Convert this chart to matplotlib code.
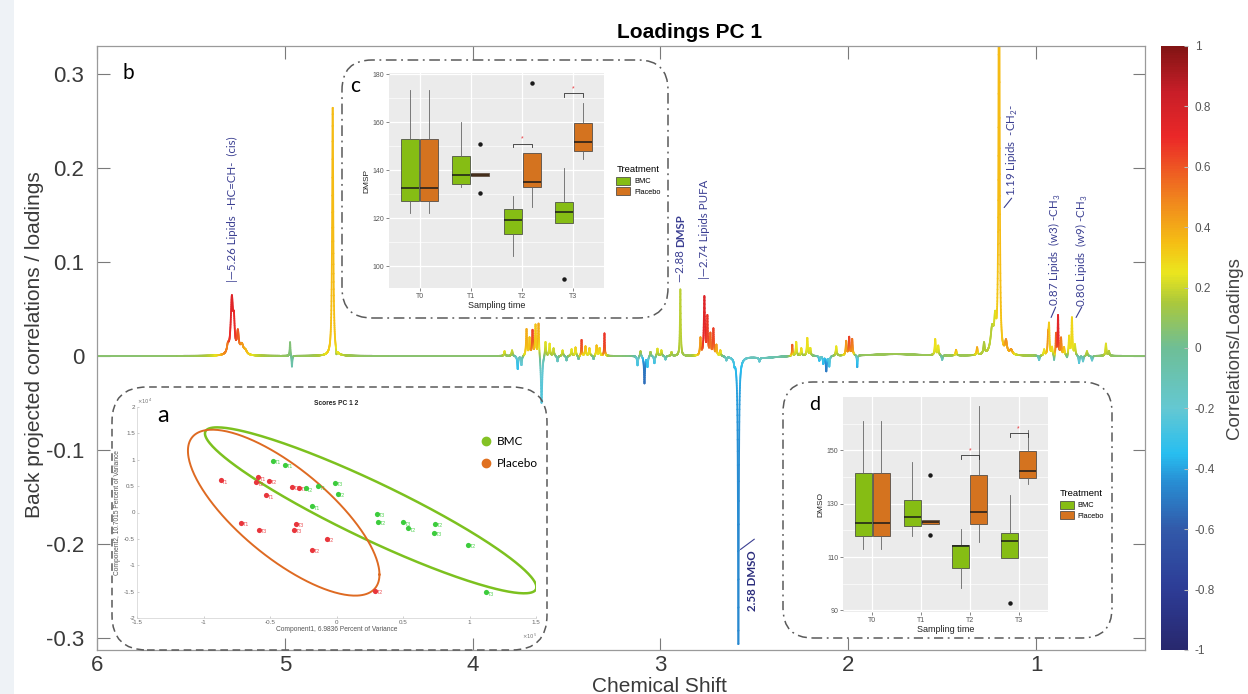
import numpy as np
import matplotlib
matplotlib.use("Agg")
import matplotlib.pyplot as plt
from matplotlib.collections import LineCollection
from matplotlib.colors import LinearSegmentedColormap, Normalize
from matplotlib.cm import ScalarMappable
from matplotlib.patches import FancyBboxPatch, Patch
from matplotlib.lines import Line2D

plt.rcParams['font.family'] = ['Liberation Sans', 'DejaVu Sans']
plt.rcParams['axes.unicode_minus'] = False
plt.rcParams['mathtext.fontset'] = 'custom'
plt.rcParams['mathtext.rm'] = 'Lato'
plt.rcParams['mathtext.bf'] = 'Lato:bold'

# ---------------------------------------------------------------- data
# Spectral features of the PC1 loading: (ppm, loading, half-width ppm, correlation)
OLEFINIC_526 = [(5.303, 0.008, 0.006, 0.40), (5.282, 0.058, 0.007, 0.78),
                (5.271, 0.028, 0.005, 0.72), (5.250, 0.022, 0.006, 0.62),
                (5.229, 0.010, 0.010, 0.45), (5.210, 0.004, 0.010, 0.35)]
WATER_REGION = [(4.972, 0.015, 0.002, 0.05), (4.962, -0.012, 0.002, -0.10),
                (4.745, 0.265, 0.0035, 0.36), (4.725, -0.006, 0.002, -0.15)]
SUGAR_REGION = [(3.830, 0.005, 0.003, 0.30), (3.790, 0.006, 0.003, 0.25),
                (3.760, -0.014, 0.003, -0.40), (3.740, -0.010, 0.003, -0.30),
                (3.713, 0.028, 0.003, 0.42), (3.697, 0.018, 0.003, 0.35),
                (3.681, 0.026, 0.003, 0.72), (3.665, 0.032, 0.003, 0.35),
                (3.649, 0.036, 0.003, 0.48), (3.633, -0.052, 0.004, -0.28),
                (3.612, 0.016, 0.003, 0.30), (3.590, 0.013, 0.003, 0.30),
                (3.569, 0.008, 0.003, 0.25), (3.548, -0.006, 0.003, -0.25),
                (3.521, 0.006, 0.003, 0.30), (3.500, -0.005, 0.003, -0.20),
                (3.473, 0.007, 0.003, 0.30), (3.452, 0.009, 0.003, 0.35),
                (3.436, -0.004, 0.003, -0.20), (3.420, 0.017, 0.002, 0.72),
                (3.399, 0.010, 0.003, 0.40), (3.378, 0.008, 0.003, 0.35),
                (3.356, -0.004, 0.003, -0.20), (3.340, 0.011, 0.003, 0.40),
                (3.324, 0.008, 0.003, 0.35), (3.298, 0.024, 0.002, 0.72)]
CHOLINE_REGION = [(3.122, -0.010, 0.003, -0.35), (3.106, 0.006, 0.003, 0.30),
                  (3.085, -0.029, 0.003, -0.58), (3.069, -0.011, 0.003, -0.40),
                  (3.053, 0.005, 0.003, 0.25), (3.032, -0.008, 0.003, -0.40),
                  (3.016, 0.008, 0.003, 0.30), (2.995, 0.006, 0.003, 0.30),
                  (2.973, -0.004, 0.003, -0.30), (2.941, 0.004, 0.003, 0.25)]
DMSP_PEAK = [(2.894, 0.071, 0.0025, 0.18)]
PUFA_REGION = [(2.787, 0.018, 0.003, 0.45), (2.766, 0.062, 0.0035, 0.78),
               (2.750, 0.040, 0.003, 0.70), (2.734, 0.022, 0.003, 0.60),
               (2.718, 0.028, 0.003, 0.70), (2.702, 0.011, 0.003, 0.50),
               (2.681, 0.006, 0.003, 0.40), (2.649, -0.004, 0.003, -0.30),
               (2.606, -0.005, 0.003, -0.30)]
DMSO_PEAK = [(2.585, -0.296, 0.0025, -0.47), (2.585, -0.012, 0.012, -0.30)]
MID_REGION = [(2.450, -0.002, 0.080, -0.25), (2.473, -0.004, 0.003, -0.30),
              (2.298, 0.012, 0.002, 0.72), (2.277, 0.015, 0.003, 0.30),
              (2.250, 0.008, 0.003, 0.35), (2.218, 0.019, 0.003, 0.30),
              (2.202, 0.008, 0.003, 0.30), (2.154, -0.005, 0.003, -0.50),
              (2.133, -0.008, 0.003, -0.45), (2.117, -0.016, 0.003, -0.58),
              (2.101, -0.011, 0.003, -0.35), (2.064, 0.010, 0.003, 0.30),
              (2.011, 0.015, 0.003, 0.50), (1.995, 0.019, 0.003, 0.72),
              (1.979, 0.017, 0.003, 0.60), (1.952, -0.013, 0.002, -0.50),
              (1.750, 0.002, 0.150, 0.15), (1.537, 0.017, 0.003, 0.30),
              (1.521, 0.010, 0.003, 0.30), (1.500, -0.005, 0.003, -0.25),
              (1.426, 0.006, 0.003, 0.45), (1.314, 0.008, 0.003, 0.50),
              (1.277, 0.012, 0.004, 0.15)]
METHYLENE_119 = [(1.234, 0.026, 0.010, 0.15), (1.218, 0.030, 0.006, 0.20),
                 (1.197, 0.600, 0.0028, 0.36), (1.160, 0.013, 0.006, 0.55),
                 (1.133, 0.005, 0.008, 0.60)]
METHYL_REGION = [(0.984, -0.005, 0.003, -0.35), (0.957, 0.006, 0.003, 0.30),
                 (0.936, 0.018, 0.003, 0.55), (0.931, 0.030, 0.003, 0.30),
                 (0.915, 0.008, 0.003, 0.30), (0.904, -0.007, 0.002, -0.35),
                 (0.894, 0.022, 0.002, 0.60), (0.883, 0.042, 0.0025, 0.78),
                 (0.867, 0.018, 0.003, 0.55), (0.851, 0.008, 0.003, 0.40),
                 (0.835, -0.004, 0.003, -0.30), (0.824, 0.020, 0.003, 0.30),
                 (0.809, 0.040, 0.003, 0.30), (0.793, 0.011, 0.003, 0.25),
                 (0.771, -0.008, 0.003, -0.35), (0.750, -0.006, 0.003, -0.30),
                 (0.729, 0.005, 0.003, 0.25), (0.702, -0.005, 0.003, -0.30),
                 (0.628, 0.013, 0.003, 0.25), (0.612, 0.005, 0.003, 0.20)]
BASELINE_CORR = 0.06

# Colour scale of the correlations
CMAP_STOPS = [-1.0, -0.8, -0.6, -0.45, -0.35, -0.2, 0.0, 0.15, 0.25, 0.35, 0.5, 0.7, 0.85, 1.0]
CMAP_HEX = ['#28286E', '#2D3C96', '#325AAA', '#288CD2', '#28BEF0', '#64C8D2', '#6EBE96',
            '#AAC83C', '#EBE61E', '#F5BE14', '#F0821E', '#EB2828', '#C81E28', '#821414']
CBAR_TICKS = [-1, -0.8, -0.6, -0.4, -0.2, 0, 0.2, 0.4, 0.6, 0.8, 1]
X_TICKS = [6, 5, 4, 3, 2, 1]
Y_TICKS = [-0.3, -0.2, -0.1, 0, 0.1, 0.2, 0.3]

# Box-plot summaries per sampling time: (lower whisker, Q1, median, Q3, upper whisker)
TIMES = ['T0', 'T1', 'T2', 'T3']
DMSP_BMC = [(122.4, 127.1, 132.5, 152.9, 173.3), (133.0, 134.3, 138.0, 146.0, 160.3),
            (104.3, 113.6, 119.3, 124.0, 129.4), (118.0, 118.0, 122.5, 127.0, 141.0)]
DMSP_PLACEBO = [(122.4, 127.1, 132.5, 152.9, 173.3), (137.6, 137.6, 138.2, 139.0, 139.0),
                (124.7, 132.9, 135.3, 147.0, 147.0), (144.9, 148.0, 151.7, 159.6, 168.0)]
DMSP_BMC_OUT = [[], [], [], [94.9]]
DMSP_PLACEBO_OUT = [[], [151.1, 130.6], [176.4], []]
DMSP_SIG_TIME = [3, 4]
DMSP_SIG_Y = [151.1, 172.0]

DMSO_BMC = [(113.1, 117.9, 122.75, 141.6, 160.9), (117.9, 121.6, 125.0, 131.25, 145.6),
            (98.5, 106.0, 114.1, 114.5, 120.6), (109.6, 109.6, 115.9, 119.1, 133.1)]
DMSO_PLACEBO = [(113.1, 117.9, 122.75, 141.6, 160.9), (122.5, 122.5, 123.25, 123.75, 123.75),
                (115.6, 122.5, 127.0, 140.6, 166.5), (137.25, 139.6, 142.25, 149.6, 157.75)]
DMSO_BMC_OUT = [[], [], [], [92.9]]
DMSO_PLACEBO_OUT = [[], [140.6, 118.1], [], []]
DMSO_SIG_TIME = [3, 4]
DMSO_SIG_Y = [148.25, 156.5]

# PCA scores (Component1 in 1e5, Component2 in 1e4) with sampling-time tags
PLACEBO_X = [-0.872, -0.591, -0.604, -0.508, -0.531, -0.333, -0.280, -0.716,
             -0.579, -0.301, -0.321, -0.075, -0.185, 0.288]
PLACEBO_Y = [0.608, 0.665, 0.570, 0.595, 0.323, 0.481, 0.462, -0.190,
             -0.323, -0.215, -0.329, -0.494, -0.709, -1.481]
PLACEBO_T = ['T1', 'T1', 'T2', 'T2', 'T1', 'T2', 'T1', 'T1',
             'T3', 'T3', 'T3', 'T2', 'T2', 'T2']
BMC_X = [-0.478, -0.388, -0.233, -0.140, -0.013, 0.008, -0.185, 0.306,
         0.311, 0.498, 0.536, 0.744, 0.736, 0.987, 1.122]
BMC_Y = [0.975, 0.899, 0.456, 0.494, 0.557, 0.348, 0.120, -0.019,
         -0.171, -0.184, -0.297, -0.215, -0.386, -0.614, -1.513]
BMC_T = ['T1', 'T1', 'T2', 'T1', 'T3', 'T2', 'T1', 'T3',
         'T2', 'T3', 'T2', 'T2', 'T3', 'T2', 'T3']
# Group ellipses: centre x, centre y, half-extent x, half-extent y, correlation
BMC_ELLIPSE = (0.257, 0.041, 1.246, 1.573, -0.926)
PLACEBO_ELLIPSE = (-0.397, -0.003, 0.720, 1.573, -0.746)

# ---------------------------------------------------------------- helpers
FIG_W, FIG_H = 1248, 694


def rect(x0, y0, x1, y1):
    """Figure-fraction rectangle from pixel edges (origin top-left)."""
    return [x0 / FIG_W, 1 - y1 / FIG_H, (x1 - x0) / FIG_W, (y1 - y0) / FIG_H]


def rounded_frame(x0, y0, x1, y1, radius, ls):
    p = FancyBboxPatch((x0 / 100, (FIG_H - y1) / 100), (x1 - x0) / 100, (y1 - y0) / 100,
                       boxstyle=f"round,pad=0,rounding_size={radius}",
                       transform=fig.dpi_scale_trans, fc='none', ec='#5a5a5a',
                       lw=1.1, ls=ls, zorder=1)
    fig.add_artist(p)


fig = plt.figure(figsize=(FIG_W / 100, FIG_H / 100), dpi=100)
cmap = LinearSegmentedColormap.from_list(
    'corr', [((s + 1) / 2, c) for s, c in zip(CMAP_STOPS, CMAP_HEX)])
norm = Normalize(-1, 1)

# faint page margin at the left edge
fig.add_artist(plt.Rectangle((0, 0), 14 / FIG_W, 1, transform=fig.transFigure,
                             fc='#eef2f6', ec='none', zorder=0))

# ---------------------------------------------------------------- main spectrum
ax = fig.add_axes(rect(97, 46, 1145, 650))
ax.set_zorder(0)

peaks = np.array(OLEFINIC_526 + WATER_REGION + SUGAR_REGION + CHOLINE_REGION + DMSP_PEAK
                 + PUFA_REGION + DMSO_PEAK + MID_REGION + METHYLENE_119 + METHYL_REGION)
p_ppm, p_h, p_w, p_c = peaks.T
ppm = np.linspace(6.0, 0.42, 14000)
contrib = p_h[:, None] / (1 + ((ppm[None, :] - p_ppm[:, None]) / p_w[:, None]) ** 2)
loading = contrib.sum(axis=0)
weight = np.abs(contrib)
corr = (BASELINE_CORR * 0.0015 + (weight * p_c[:, None]).sum(axis=0)) / (0.0015 + weight.sum(axis=0))

pts = np.column_stack([ppm, loading]).reshape(-1, 1, 2)
segs = np.concatenate([pts[:-1], pts[1:]], axis=1)
lc = LineCollection(segs, cmap=cmap, norm=norm, linewidths=1.3, capstyle='round')
lc.set_array(0.5 * (corr[:-1] + corr[1:]))
ax.add_collection(lc)

ax.set_xlim(6.0, 0.42)
ax.set_ylim(-0.313, 0.33)
ax.set_xticks(X_TICKS)
ax.set_xticklabels([f"{v:g}" for v in X_TICKS])
ax.set_yticks(Y_TICKS)
ax.set_yticklabels([f"{v:g}" for v in Y_TICKS])
ax.tick_params(direction='in', length=9, width=0.8, top=True, right=True,
               labelsize=16, color='#7a7a7a', labelcolor='#3a3a3a')
ax.tick_params(axis='y', pad=9)
ax.tick_params(axis='x', pad=3.5)
for s in ax.spines.values():
    s.set_color('#9a9a9a')
    s.set_linewidth(0.9)
ax.set_xlabel('Chemical Shift', fontsize=15, color='#3a3a3a')
ax.xaxis.set_label_coords(0.537, -0.044)
ax.set_ylabel('Back projected correlations / loadings', fontsize=15, color='#3a3a3a')
ax.yaxis.set_label_coords(-0.051, 0.505)
fig.text(690 / FIG_W, 1 - 32 / FIG_H, 'Loadings PC 1', fontsize=15, fontweight='bold',
         ha='center', va='center')
ax.text(0.03, 0.955, 'b', transform=ax.transAxes, fontsize=15, family='Lato',
        ha='center', va='center')

# peak annotations
LAB = dict(family='Lato', fontsize=8.3, color='#3b3f92', rotation=90, ha='center', va='bottom')
ax.text(5.277, 0.0785, '|—5.26 Lipids  -HC=CH-  (cis)', **LAB)
t = ax.text(2.894, 0.0785, '—2.88 ', **LAB)
ax.annotate('DMSP', xy=(0.5, 1), xycoords=t, fontweight='bold', **LAB)
ax.text(2.766, 0.0817, '|—2.74 Lipids PUFA', **LAB)
ax.text(1.128, 0.170, '1.19 Lipids  -CH$_2$-', **LAB)
ax.text(0.899, 0.053, '0.87 Lipids  (w3) -CH$_3$', **LAB)
ax.text(0.755, 0.052, '0.80 Lipids  (w9) -CH$_3$', **LAB)
ax.text(2.508, -0.2715, '2.58 DMSO', fontweight='bold',
        **{**LAB, 'color': '#2b2d7c'})
CONN = dict(arrowstyle='-', color='#3b3f92', lw=0.8, shrinkA=0, shrinkB=0)
ax.annotate('', xy=(1.170, 0.158), xytext=(1.130, 0.168), arrowprops=CONN)
ax.annotate('', xy=(0.920, 0.041), xytext=(0.896, 0.052), arrowprops=CONN)
ax.annotate('', xy=(0.787, 0.041), xytext=(0.757, 0.052), arrowprops=CONN)
ax.annotate('', xy=(2.574, -0.206), xytext=(2.500, -0.195), arrowprops=CONN)

# ---------------------------------------------------------------- colour bar
cax = fig.add_axes(rect(1161, 46, 1188, 650))
cb = fig.colorbar(ScalarMappable(norm=norm, cmap=cmap), cax=cax, ticks=CBAR_TICKS)
cb.outline.set_visible(False)
cb.ax.set_yticklabels([f"{v:g}" for v in CBAR_TICKS])
cax.tick_params(labelsize=8.5, length=3, direction='in', color='#bbbbbb',
                labelcolor='#555555', pad=5)
cb.set_label('Correlations/Loadings', fontsize=13.5, color='#444444', labelpad=8)

# ---------------------------------------------------------------- rounded frames
rounded_frame(342, 60, 668, 318, 0.30, (0, (7, 3, 1.2, 3)))
rounded_frame(112, 387, 547, 650, 0.35, (0, (5, 3)))
rounded_frame(783, 382, 1112, 638, 0.30, (0, (6, 3, 1.2, 3)))
fig.text(355 / FIG_W, 1 - 86 / FIG_H, 'c', fontsize=15, family='Lato', ha='center', va='center')
fig.text(163 / FIG_W, 1 - 416 / FIG_H, 'a', fontsize=17, family='Lato', ha='center', va='center')
fig.text(815 / FIG_W, 1 - 404 / FIG_H, 'd', fontsize=14, family='Lato', ha='center', va='center')

# ---------------------------------------------------------------- box-plot insets
GREEN, ORANGE = '#86bd14', '#d4731f'


def boxplot_inset(box, ylim, major, minor, bmc, plc, bmc_out, plc_out, sig_t, sig_y, ylabel):
    a = fig.add_axes(rect(*box))
    a.set_zorder(3)
    a.set_facecolor('#ebebeb')
    off, wid = 0.185, 0.35
    for stats, outs, shift, col in ((bmc, bmc_out, -off, GREEN), (plc, plc_out, off, ORANGE)):
        st = [dict(whislo=s[0], q1=s[1], med=s[2], q3=s[3], whishi=s[4], fliers=o)
              for s, o in zip(stats, outs)]
        pos = [i + 1 + shift for i in range(len(st))]
        a.bxp(st, positions=pos, widths=wid, patch_artist=True, showcaps=False,
              boxprops=dict(facecolor=col, edgecolor='#3a3a3a', lw=0.5),
              medianprops=dict(color='#1a1a1a', lw=1.1),
              whiskerprops=dict(color='#666666', lw=0.6),
              flierprops=dict(marker='o', ms=2.2, mfc='#1a1a1a', mec='#1a1a1a'),
              zorder=3)
    rng = ylim[1] - ylim[0]
    for tt, yy in zip(sig_t, sig_y):
        a.plot([tt - off, tt - off, tt + off, tt + off],
               [yy - 0.018 * rng, yy, yy, yy - 0.018 * rng], color='#333333', lw=0.6, zorder=4)
        a.text(tt, yy + 0.004 * rng, '*', color='#e8383d', fontsize=5, ha='center',
               va='bottom', zorder=4)
    a.set_xlim(0.4, 4.6)
    a.set_ylim(*ylim)
    a.set_xticks(range(1, 5))
    a.set_xticklabels(TIMES)
    a.set_yticks(major)
    a.set_yticks(minor, minor=True)
    a.grid(which='major', color='white', lw=0.9)
    a.grid(which='minor', axis='y', color='white', lw=0.45)
    a.set_axisbelow(True)
    for s in a.spines.values():
        s.set_visible(False)
    a.tick_params(labelsize=5, length=2, width=0.5, color='#555555', labelcolor='#555555', pad=1.5)
    a.tick_params(which='minor', length=0)
    a.set_xlabel('Sampling time', fontsize=6.5, labelpad=1, color='#222222')
    a.set_ylabel(ylabel, fontsize=6, labelpad=1.5, color='#222222')
    handles = [Patch(facecolor=GREEN, edgecolor='#3a3a3a', lw=0.5, label='BMC'),
               Patch(facecolor=ORANGE, edgecolor='#3a3a3a', lw=0.5, label='Placebo')]
    leg = a.legend(handles=handles, title='Treatment', loc='center left',
                   bbox_to_anchor=(1.04, 0.5), frameon=False, fontsize=5.3,
                   title_fontsize=6.8, handlelength=1.9, handleheight=1.3,
                   labelspacing=0.3, handletextpad=0.5, borderpad=0)
    leg._legend_box.align = 'left'
    return a


boxplot_inset((389, 73, 604, 288), (91, 180.5), [100, 120, 140, 160, 180],
              [110, 130, 150, 170], DMSP_BMC, DMSP_PLACEBO, DMSP_BMC_OUT,
              DMSP_PLACEBO_OUT, DMSP_SIG_TIME, DMSP_SIG_Y, 'DMSP')
boxplot_inset((843, 397, 1048, 612), (89.4, 170), [90, 110, 130, 150],
              [100, 120, 140, 160], DMSO_BMC, DMSO_PLACEBO, DMSO_BMC_OUT,
              DMSO_PLACEBO_OUT, DMSO_SIG_TIME, DMSO_SIG_Y, 'DMSO')

# ---------------------------------------------------------------- scores inset
sa = fig.add_axes(rect(137, 407, 536, 618))
sa.set_zorder(3)
sa.patch.set_alpha(0)
t_par = np.linspace(0, 2 * np.pi, 300)
for (cx, cy, wx, wy, rho), col, lw in ((BMC_ELLIPSE, '#7cc11f', 1.8),
                                       (PLACEBO_ELLIPSE, '#de6a22', 1.4)):
    ex = cx + wx * np.cos(t_par)
    ey = cy + wy * (rho * np.cos(t_par) + np.sqrt(1 - rho ** 2) * np.sin(t_par))
    sa.plot(ex, ey, color=col, lw=lw, zorder=2)
for xs, ys, ts, col in ((PLACEBO_X, PLACEBO_Y, PLACEBO_T, '#e8363c'),
                        (BMC_X, BMC_Y, BMC_T, '#3ccc3c')):
    sa.scatter(xs, ys, s=14, color=col, zorder=3, linewidths=0)
    for x, y, tg in zip(xs, ys, ts):
        sa.annotate(tg, (x, y), xytext=(1.3, -2.4), textcoords='offset points',
                    fontsize=3.9, color=col, alpha=0.85, zorder=3)
sa.set_xlim(-1.5, 1.5)
sa.set_ylim(-2, 2)
sa.set_xticks([-1.5, -1, -0.5, 0, 0.5, 1, 1.5])
sa.set_xticklabels(['-1.5', '-1', '-0.5', '0', '0.5', '1', '1.5'])
sa.set_yticks([-2, -1.5, -1, -0.5, 0, 0.5, 1, 1.5, 2])
sa.set_yticklabels(['-2', '-1.5', '-1', '-0.5', '0', '0.5', '1', '1.5', '2'])
sa.tick_params(labelsize=4.5, length=1.5, width=0.4, direction='in',
               color='#aaaaaa', labelcolor='#666666', pad=1.5)
for side, s in sa.spines.items():
    s.set_visible(side in ('left', 'bottom'))
    s.set_color('#d0d0d0')
    s.set_linewidth(0.5)
sa.set_xlabel('Component1, 6.9836 Percent of Variance', fontsize=4.8, color='#555555', labelpad=1)
sa.set_ylabel('Component2, 10.7015 Percent of Variance', fontsize=4.8, color='#555555', labelpad=2)
sa.set_title('Scores PC 1 2', fontsize=4.8, fontweight='bold', pad=1, color='#222222')
sa.text(0.0, 1.005, '×10$^4$', transform=sa.transAxes, fontsize=3.8, color='#777777',
        ha='left', va='bottom', family='DejaVu Sans')
sa.text(0.965, -0.085, '×10$^5$', transform=sa.transAxes, fontsize=3.8, color='#777777',
        ha='left', va='center', family='DejaVu Sans')
leg_handles = [Line2D([], [], ls='none', marker='o', ms=6, color='#84c225', label='BMC'),
               Line2D([], [], ls='none', marker='o', ms=6, color='#e0701f', label='Placebo')]
sa.legend(handles=leg_handles, loc='upper left', bbox_to_anchor=(0.845, 0.89), frameon=False,
          prop=dict(family='Lato', size=8.5), handletextpad=0.4, labelspacing=0.9,
          handlelength=1.0, borderpad=0)

fig.savefig('out.png', dpi=100)
